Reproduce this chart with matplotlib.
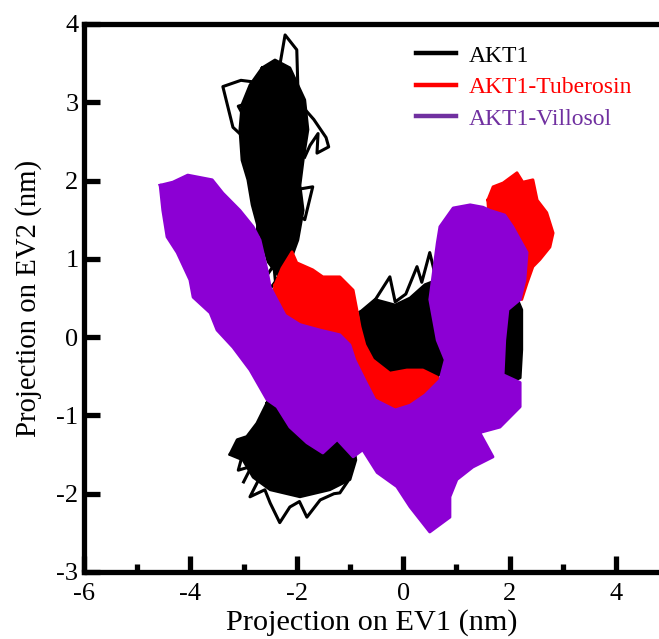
import numpy as np
import matplotlib
matplotlib.use("Agg")
import matplotlib.pyplot as plt
from matplotlib.lines import Line2D

plt.rcParams["font.family"] = ["Liberation Serif", "DejaVu Serif"]
plt.rcParams["axes.unicode_minus"] = False

# ---- values (nm) ----
labels = ["AKT1", "AKT1-Tuberosin", "AKT1-Villosol"]
colors = ["#000000", "#ff0000", "#8c00d4"]
legend_colors = ["#000000", "#ff0000", "#7030a0"]

# AKT1: dense regions (outlines) and sparse excursions of the trajectory
akt1_top_core = np.array([
    (-2.65, 3.44), (-2.41, 3.54), (-2.13, 3.44), (-1.98, 3.22), (-1.85, 3.03),
    (-1.79, 2.65), (-1.88, 2.26), (-1.94, 1.94), (-1.88, 1.62), (-1.98, 1.24),
    (-2.13, 0.96), (-2.35, 0.79), (-2.54, 0.96), (-2.69, 1.31), (-2.84, 1.69),
    (-2.92, 2.01), (-3.03, 2.26), (-3.07, 2.65), (-3.03, 2.97), (-2.88, 3.22)])
akt1_center = np.array([
    (-0.81, 0.32), (-0.53, 0.48), (-0.15, 0.41), (0.13, 0.50), (0.41, 0.67),
    (0.64, 0.73), (0.73, 0.22), (0.79, -0.42), (0.32, -0.67), (-0.44, -0.61),
    (-0.72, -0.36), (-0.77, 0.03)])
akt1_right = np.array([
    (1.91, 0.48), (2.10, 0.56), (2.23, 0.35), (2.23, -0.16), (2.20, -0.52),
    (1.91, -0.61), (1.44, -0.55), (1.44, 0.35)])
akt1_bottom = np.array([
    (-2.56, -0.84), (-2.75, -1.10), (-2.94, -1.27), (-3.12, -1.31), (-3.26, -1.50),
    (-3.01, -1.57), (-2.82, -1.79), (-2.50, -1.95), (-1.94, -2.04), (-1.38, -1.95),
    (-1.00, -1.82), (-0.89, -1.57), (-0.94, -1.31), (-1.38, -1.06), (-2.13, -0.74)])
akt1_paths = [
    np.array([(-2.35, 3.35), (-2.22, 3.86), (-2.00, 3.67), (-1.98, 3.20), (-2.10, 3.35),
              (-2.20, 3.15)]),
    np.array([(-1.90, 2.95), (-1.68, 2.78), (-1.45, 2.55), (-1.40, 2.43), (-1.62, 2.35),
              (-1.60, 2.60), (-1.75, 2.45), (-1.85, 2.30)]),
    np.array([(-2.70, 3.25), (-3.05, 3.28), (-3.39, 3.20), (-3.20, 2.68), (-3.01, 2.56),
              (-2.90, 2.70), (-3.10, 2.95), (-2.85, 3.00)]),
    np.array([(-2.30, 1.85), (-1.70, 1.92), (-1.85, 1.50), (-2.05, 1.60), (-2.50, 1.30),
              (-2.25, 1.20), (-2.00, 1.28), (-2.20, 1.00), (-2.45, 1.05), (-2.40, 0.70),
              (-2.30, 0.80), (-2.50, 0.62)]),
    np.array([(-2.70, 1.70), (-2.75, 1.30), (-2.55, 1.50), (-2.62, 1.10), (-2.35, 1.55),
              (-2.15, 1.45), (-2.40, 0.95), (-2.55, 0.80)]),
    np.array([(-0.55, 0.45), (-0.25, 0.77), (-0.15, 0.45), (0.05, 0.55), (0.26, 0.90),
              (0.35, 0.70), (0.50, 1.08), (0.60, 0.80), (0.62, 0.55)]),
    np.array([(-2.70, -1.80), (-2.88, -2.04), (-2.60, -1.95), (-2.50, -2.12), (-2.32, -2.37),
              (-2.13, -2.17), (-1.95, -2.10), (-1.81, -2.30), (-1.56, -2.08), (-1.30, -2.00),
              (-1.19, -1.99), (-1.05, -1.85)]),
    np.array([(-2.95, -1.30), (-3.26, -1.50), (-3.00, -1.45), (-3.10, -1.70), (-2.85, -1.65),
              (-3.00, -1.85)]),
]

# AKT1-Tuberosin
tub_left = np.array([
    (-2.41, 0.67), (-2.28, 0.88), (-2.09, 1.09), (-2.00, 0.95), (-1.70, 0.86),
    (-1.51, 0.77), (-1.19, 0.77), (-0.94, 0.60), (-0.87, 0.35), (-0.81, 0.13),
    (-0.72, -0.10), (-0.57, -0.29), (-0.25, -0.46), (0.07, -0.42), (0.37, -0.42),
    (0.64, -0.51), (0.75, -0.61), (0.69, -0.80), (0.13, -0.93), (-0.44, -0.87),
    (-1.00, -0.55), (-1.56, -0.16), (-2.13, 0.09), (-2.47, 0.41)])
tub_right = np.array([
    (1.59, 1.75), (1.69, 1.92), (1.88, 1.97), (2.14, 2.10), (2.25, 1.98),
    (2.44, 2.01), (2.52, 1.75), (2.70, 1.59), (2.82, 1.33), (2.76, 1.15),
    (2.57, 0.99), (2.44, 0.90), (2.33, 0.69), (2.23, 0.48), (1.91, 0.60),
    (1.63, 1.37)])

# AKT1-Villosol
vil_outline = np.array([
    (-4.57, 1.94), (-4.33, 1.98), (-4.05, 2.07), (-3.59, 2.01), (-3.39, 1.84),
    (-3.07, 1.62), (-2.82, 1.41), (-2.69, 1.24), (-2.56, 0.86), (-2.50, 0.64),
    (-2.22, 0.28), (-1.94, 0.16), (-1.56, 0.09), (-1.19, 0.03), (-1.00, -0.10),
    (-0.91, -0.29), (-0.72, -0.55), (-0.53, -0.80), (-0.15, -0.93), (0.13, -0.87),
    (0.41, -0.74), (0.69, -0.55), (0.79, -0.29), (0.64, -0.04), (0.50, 0.48),
    (0.64, 1.20), (0.69, 1.41), (0.94, 1.65), (1.26, 1.69), (1.50, 1.66),
    (1.63, 1.62), (1.91, 1.56), (2.06, 1.41), (2.33, 1.08), (2.29, 0.73),
    (2.20, 0.48), (1.97, 0.35), (1.91, -0.04), (1.88, -0.48), (2.20, -0.58),
    (2.20, -0.89), (1.82, -1.15), (1.44, -1.22), (1.69, -1.53), (1.31, -1.66),
    (1.01, -1.82), (0.88, -2.04), (0.88, -2.30), (0.50, -2.49), (0.13, -2.17),
    (-0.12, -1.91), (-0.49, -1.73), (-0.76, -1.44), (-0.94, -1.53), (-1.24, -1.31),
    (-1.51, -1.48), (-1.81, -1.35), (-2.13, -1.15), (-2.37, -0.89), (-2.56, -0.80),
    (-2.88, -0.42), (-3.20, -0.13), (-3.50, 0.09), (-3.63, 0.31), (-3.95, 0.51),
    (-4.01, 0.73), (-4.25, 1.08), (-4.44, 1.28), (-4.52, 1.62)])

x_ticks = [-6, -4, -2, 0, 2, 4]
y_ticks = [-3, -2, -1, 0, 1, 2, 3, 4]


def draw_region(ax, pts, color, z):
    ax.fill(pts[:, 0], pts[:, 1], color=color, lw=0, zorder=z)
    closed = np.vstack([pts, pts[:1]])
    ax.plot(closed[:, 0], closed[:, 1], color=color, lw=2.0, zorder=z)


fig = plt.figure(figsize=(6.59, 6.39), dpi=100)
ax = fig.add_axes([0.1275, 0.1049, 0.8725, 0.8576])

for region in [akt1_top_core, akt1_center, akt1_right, akt1_bottom]:
    draw_region(ax, region, colors[0], 2)
for path in akt1_paths:
    ax.plot(path[:, 0], path[:, 1], color=colors[0], lw=2.2, zorder=2)

for region in [tub_left, tub_right]:
    draw_region(ax, region, colors[1], 3)

draw_region(ax, vil_outline, colors[2], 4)

ax.set_xlim(-6, 4.81)
ax.set_ylim(-3, 4)
ax.set_xticks(x_ticks)
ax.set_xticks([-5, -3, -1, 1, 3], minor=True)
ax.set_yticks(y_ticks)
ax.tick_params(axis="both", which="major", direction="in", length=11.5, width=3.8,
               labelsize=19, pad=8)
ax.tick_params(axis="x", which="minor", direction="in", length=6, width=3.8)
ax.tick_params(axis="y", which="major", pad=4)
for side in ["left", "bottom", "top"]:
    ax.spines[side].set_linewidth(3.8)
    ax.spines[side].set_zorder(6)
ax.spines["right"].set_visible(False)

ax.set_xlabel("Projection on EV1 (nm)", fontsize=21.8, labelpad=3)
ax.set_ylabel("Projection on EV2 (nm)", fontsize=20.7, labelpad=10)

handles = [Line2D([0], [0], color=c, lw=3.2) for c in legend_colors]
leg = ax.legend(handles, labels, frameon=False, loc="upper left",
                bbox_to_anchor=(0.54, 1.0), fontsize=17, handlelength=1.7,
                handletextpad=0.55, labelspacing=0.42, labelcolor=legend_colors)
leg.set_zorder(7)

fig.savefig("out.png", dpi=100)
